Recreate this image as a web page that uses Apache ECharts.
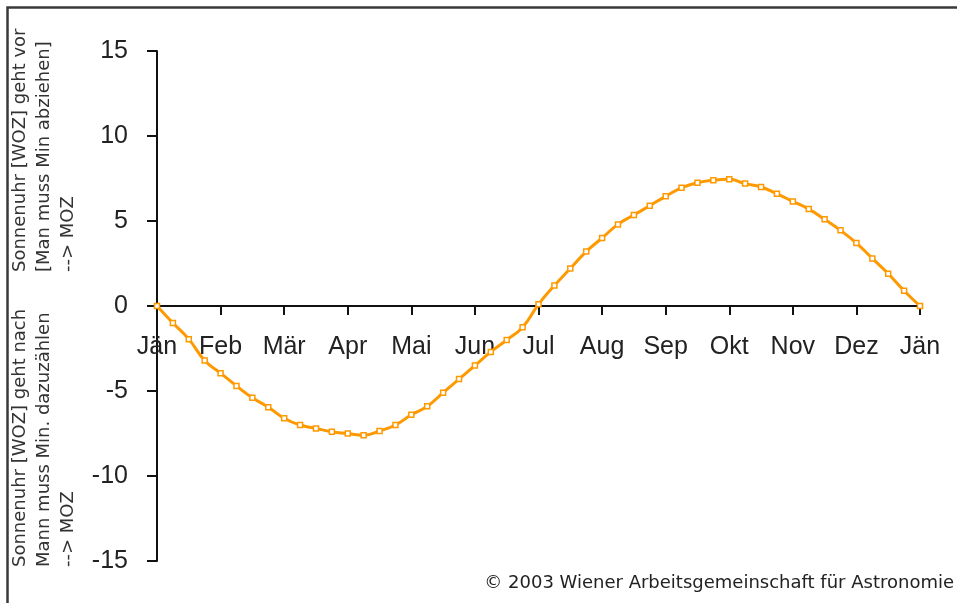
<!DOCTYPE html>
<html>
<head>
<meta charset="utf-8">
<script src="https://cdn.jsdelivr.net/npm/echarts@6/dist/echarts.min.js"></script>
<style>
  html, body { margin: 0; padding: 0; background: #fff; }
  #chart { width: 957px; height: 603px; }
</style>
</head>
<body>
<div id="chart"></div>
<script>
// month labels at tick 0..12
const months = ["Jän", "Feb", "Mär", "Apr", "Mai", "Jun", "Jul", "Aug", "Sep", "Okt", "Nov", "Dez", "Jän"];
// position in months (quarter steps)
const monthPos = [0, 0.25, 0.5, 0.75, 1, 1.25, 1.5, 1.75, 2, 2.25, 2.5, 2.75, 3, 3.25, 3.5, 3.75,
  4, 4.25, 4.5, 4.75, 5, 5.25, 5.5, 5.75, 6, 6.25, 6.5, 6.75, 7, 7.25, 7.5, 7.75,
  8, 8.25, 8.5, 8.75, 9, 9.25, 9.5, 9.75, 10, 10.25, 10.5, 10.75, 11, 11.25, 11.5, 11.75, 12];
// minutes
const minutes = [0, -1.0, -1.95, -3.2, -3.95, -4.7, -5.4, -5.95, -6.6, -7.0, -7.2, -7.4, -7.5, -7.6, -7.35, -7.0,
  -6.4, -5.9, -5.1, -4.3, -3.5, -2.7, -2.0, -1.25, 0.1, 1.2, 2.2, 3.2, 4.0, 4.8, 5.35, 5.9,
  6.45, 6.95, 7.25, 7.4, 7.45, 7.2, 7.0, 6.6, 6.15, 5.7, 5.1, 4.45, 3.7, 2.8, 1.9, 0.9, 0];
const yTicks = [-15, -10, -5, 0, 5, 10, 15];

const chart = echarts.init(document.getElementById("chart"));
const labelFont = { fontFamily: "Liberation Sans", fontSize: 25, color: "#222" };
const sideFont = "18px DejaVu Sans";

// grid: 510px high for 30 units, zero line sits 255px above the bottom edge
const option = {
  animation: false,
  backgroundColor: "#fff",
  grid: { left: 157, right: 37, top: 51, bottom: 42, outerBoundsMode: "none" },
  xAxis: {
    type: "value",
    min: 0,
    max: 12,
    interval: 1,
    position: "bottom",
    offset: -255,
    axisLine: { onZero: false, lineStyle: { color: "#111", width: 2 } },
    axisTick: { length: 9, lineStyle: { color: "#111", width: 2 } },
    splitLine: { show: false },
    axisLabel: Object.assign({
      margin: 29,
      showMinLabel: true,
      showMaxLabel: true,
      hideOverlap: false,
      formatter: function (v) { return months[Math.round(v)]; }
    }, labelFont)
  },
  yAxis: {
    type: "value",
    min: yTicks[0],
    max: yTicks[yTicks.length - 1],
    interval: 5,
    axisLine: { show: true, onZero: false, lineStyle: { color: "#111", width: 2 } },
    axisTick: { show: true, length: 10, lineStyle: { color: "#111", width: 2 } },
    splitLine: { show: false },
    axisLabel: Object.assign({ margin: 29 }, labelFont)
  },
  series: [
    {
      type: "line",
      data: monthPos.map((m, i) => [m, minutes[i]]),
      smooth: true,
      symbol: "rect",
      symbolSize: 5,
      showAllSymbol: true,
      lineStyle: { color: "#ff9900", width: 3 },
      itemStyle: { color: "#fff", borderColor: "#ff9900", borderWidth: 1.5 },
      z: 5
    }
  ],
  graphic: [
    {
      type: "polyline",
      shape: { points: [[7.5, 603], [7.5, 7.5], [957, 7.5]] },
      style: { fill: null, stroke: "#3a3a3a", lineWidth: 2.5 },
      silent: true
    },
    {
      type: "text",
      x: 8, y: 272, rotation: Math.PI / 2,
      style: {
        text: "Sonnenuhr [WOZ] geht vor\n[Man muss Min abziehen]\n--> MOZ",
        font: sideFont, fill: "#333", lineHeight: 24,
        textAlign: "left", textVerticalAlign: "top"
      }
    },
    {
      type: "text",
      x: 8, y: 567, rotation: Math.PI / 2,
      style: {
        text: "Sonnenuhr [WOZ] geht nach\nMann muss Min. dazuzählen\n--> MOZ",
        font: sideFont, fill: "#333", lineHeight: 24,
        textAlign: "left", textVerticalAlign: "top"
      }
    },
    {
      type: "text",
      right: 3, top: 574,
      style: {
        text: "© 2003 Wiener Arbeitsgemeinschaft für Astronomie",
        font: "18px DejaVu Sans", fill: "#222"
      }
    }
  ]
};
chart.setOption(option);
</script>
</body>
</html>
